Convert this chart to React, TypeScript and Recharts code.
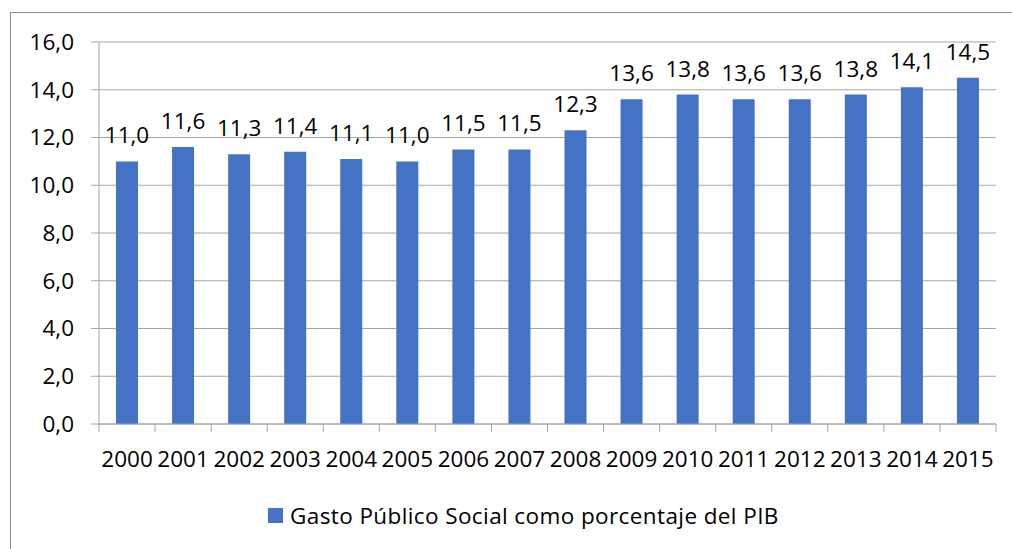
import React from 'react';
import { BarChart, Bar, XAxis, YAxis, CartesianGrid, LabelList } from 'recharts';

const years = ['2000', '2001', '2002', '2003', '2004', '2005', '2006', '2007', '2008', '2009', '2010', '2011', '2012', '2013', '2014', '2015'];
const gasto = [11.0, 11.6, 11.3, 11.4, 11.1, 11.0, 11.5, 11.5, 12.3, 13.6, 13.8, 13.6, 13.6, 13.8, 14.1, 14.5];
const yTicks = [0, 2, 4, 6, 8, 10, 12, 14, 16];
const seriesName = 'Gasto Público Social como porcentaje del PIB';

const data = years.map((year, i) => ({ year, value: gasto[i] }));

const W = 1012;
const H = 549;
const FONT = '"Open Sans", sans-serif';
const FS = 22.5;
const BLUE = '#4472C4';
const GRID = '#a6a6a6';
const MARGIN = { top: 42, right: 16, left: 0, bottom: 65 };
const Y_WIDTH = 99;
const BAND = (W - MARGIN.left - MARGIN.right - Y_WIDTH) / years.length;

const fmt = (v: number) => v.toFixed(1).replace('.', ',');

// Excel puts category tick marks between bars, so draw them at band edges
const YearTick = (props: any) => {
  const { x, y, payload, index } = props;
  const axisY = y - 8;
  const left = x - BAND / 2;
  return (
    <g>
      <line x1={left} y1={axisY} x2={left} y2={axisY + 8} stroke={GRID} />
      {index === years.length - 1 && (
        <line x1={x + BAND / 2} y1={axisY} x2={x + BAND / 2} y2={axisY + 8} stroke={GRID} />
      )}
      <text x={x} y={y} dy={35} textAnchor="middle" fill="#000" fontSize={FS} fontFamily={FONT}>
        {payload.value}
      </text>
    </g>
  );
};

export default function App() {
  return (
    <div style={{ position: 'absolute', left: 0, top: 0, width: W, height: H, overflow: 'hidden', background: '#fff' }}>
      <div style={{ position: 'absolute', left: 10, top: 12, width: 1010, height: 545, border: '1px solid #8c8c8c' }} />
      <div style={{ position: 'absolute', left: 0, top: 0 }}>
        <BarChart width={W} height={H} data={data} margin={MARGIN} barSize={22}>
          <CartesianGrid vertical={false} stroke={GRID} strokeWidth={1} />
          <XAxis
            dataKey="year"
            stroke={GRID}
            tickLine={false}
            tickSize={8}
            tickMargin={0}
            interval={0}
            height={60}
            tick={<YearTick />}
          />
          <YAxis
            domain={[0, 16]}
            ticks={yTicks}
            width={Y_WIDTH}
            stroke={GRID}
            tickSize={8}
            tickMargin={17}
            tickFormatter={fmt}
            tick={{ fill: '#000', fontSize: FS, fontFamily: FONT }}
          />
          <Bar dataKey="value" name={seriesName} fill={BLUE} isAnimationActive={false}>
            <LabelList
              dataKey="value"
              position="top"
              offset={18}
              formatter={(v: any) => fmt(Number(v))}
              fill="#000"
              fontSize={FS}
              fontFamily={FONT}
            />
          </Bar>
        </BarChart>
      </div>
      <div
        style={{
          position: 'absolute',
          left: 268,
          top: 500,
          display: 'flex',
          alignItems: 'center',
          fontFamily: FONT,
          fontSize: FS,
          letterSpacing: 0.4,
          color: '#000',
          whiteSpace: 'nowrap',
        }}
      >
        <span style={{ display: 'inline-block', width: 15, height: 15, background: BLUE, marginRight: 7 }} />
        <span>{seriesName}</span>
      </div>
    </div>
  );
}
